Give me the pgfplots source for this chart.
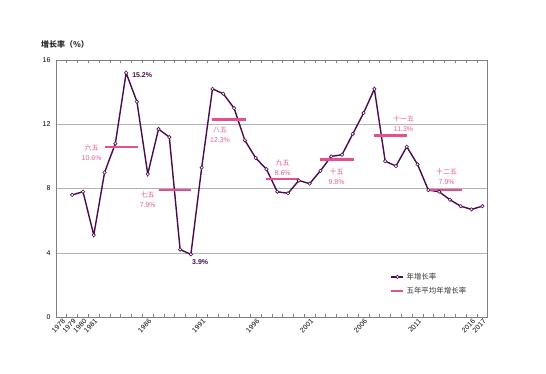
\documentclass[border=0pt]{standalone}
\usepackage{fontspec}
\setmainfont{Liberation Sans}
\newfontfamily\cjk{Noto Sans CJK SC}
\usepackage{pgfplots}
\pgfplotsset{compat=1.18}
\definecolor{dpurple}{HTML}{4A0A4E}
\definecolor{mpink}{HTML}{E4508F}
\definecolor{lpink}{HTML}{DD5F98}
\definecolor{axgray}{HTML}{808080}
\begin{document}
\begin{tikzpicture}[x=1bp,y=1bp]
\path[use as bounding box] (-56,-56) rectangle (490,317);
\node[font=\cjk\bfseries\fontsize{8}{9}\selectfont, text=black!85] at (9,273) {增长率（\%）};
\begin{axis}[
  at={(0,0)}, anchor=south west,
  width=431.7bp, height=257bp, scale only axis,
  xmin=1977.5, xmax=2017.5, ymin=0, ymax=16,
  axis line style={axgray, line width=0.8bp},
  ytick={0,4,8,12,16},
  yticklabels={0,4,8,12,16},
  ymajorgrids, grid style={black!30, line width=0.5bp},
  ytick style={draw=none},
  y tick label style={font=\fontsize{7}{8}\selectfont, xshift=-2bp},
  xtick={1978,1979,1980,1981,1986,1991,1996,2001,2006,2011,2016,2017},
  xticklabels={1978,1979,1980,1981,1986,1991,1996,2001,2006,2011,2016,2017},
  major x tick style={draw=none},
  minor xtick={1978.5,1979.5,...,2016.5},
  minor tick length=3bp, tick align=inside,
  minor x tick style={axgray, line width=0.6bp},
  x tick label style={rotate=45, anchor=north east, font=\fontsize{7}{8}\selectfont, inner sep=1.5bp, xshift=1bp},
  legend style={draw=none, fill=none, font=\cjk\fontsize{7.5}{9}\selectfont, text=black!80,
    at={(axis description cs:0.774,0.18)}, anchor=north west, row sep=2bp, inner sep=0pt,
    cells={anchor=west}},
  legend image code/.code={\draw[mark repeat=2,mark phase=2,#1] plot coordinates {(0bp,0bp) (6bp,0bp) (12bp,0bp)};},
  unbounded coords=jump,
  clip=false,
]
\addplot[dpurple, line width=1.4bp, mark=*, mark size=1.7bp, mark options={fill=white, draw=dpurple, line width=0.6bp}] coordinates {
(1979,7.6) (1980,7.8) (1981,5.1) (1982,9.0) (1983,10.8) (1984,15.2) (1985,13.4)
(1986,8.9) (1987,11.7) (1988,11.2) (1989,4.2) (1990,3.9) (1991,9.3) (1992,14.2)
(1993,13.9) (1994,13.0) (1995,11.0) (1996,9.9) (1997,9.2) (1998,7.8) (1999,7.7)
(2000,8.5) (2001,8.3) (2002,9.1) (2003,10.0) (2004,10.1) (2005,11.4) (2006,12.7)
(2007,14.2) (2008,9.7) (2009,9.4) (2010,10.6) (2011,9.5) (2012,7.9) (2013,7.8)
(2014,7.3) (2015,6.9) (2016,6.7) (2017,6.9)};
\addlegendentry{年增长率}
\addplot[color=mpink, draw=mpink, line width=2.2bp, line cap=butt, mark=none] table[row sep=\\] {
x y\\
1982 10.6\\ 1985.1 10.6\\ 1986 nan\\
1987 7.9\\ 1990 7.9\\ 1991 nan\\
1992 12.3\\ 1995.1 12.3\\ 1996 nan\\
1997 8.6\\ 2000 8.6\\ 2001 nan\\
2002 9.8\\ 2005.1 9.8\\ 2006 nan\\
2007 11.3\\ 2010 11.3\\ 2011 nan\\
2012 7.9\\ 2015.1 7.9\\
};
\addlegendentry{五年平均年增长率}
\begin{scope}[every node/.style={align=center, text=lpink, font=\fontsize{7}{10}\selectfont, inner sep=0pt}]
\node at (axis cs:1980.8,10.21) {{\cjk 六五}\\10.6\%};
\node at (axis cs:1986.0,7.29) {{\cjk 七五}\\7.9\%};
\node at (axis cs:1992.7,11.33) {{\cjk 八五}\\12.3\%};
\node at (axis cs:1998.5,9.31) {{\cjk 九五}\\8.6\%};
\node at (axis cs:2003.5,8.75) {{\cjk 十五}\\9.8\%};
\node at (axis cs:2009.7,12.05) {{\cjk 十一五}\\11.3\%};
\node at (axis cs:2013.7,8.75) {{\cjk 十二五}\\7.9\%};
\end{scope}
\node[anchor=west, text=dpurple, font=\bfseries\fontsize{7}{8}\selectfont, inner sep=0pt] at (axis cs:1984.55,15.05) {15.2\%};
\node[anchor=north west, text=dpurple, font=\bfseries\fontsize{7}{8}\selectfont, inner sep=0pt] at (axis cs:1990.1,3.6) {3.9\%};
\end{axis}
\end{tikzpicture}
\end{document}
